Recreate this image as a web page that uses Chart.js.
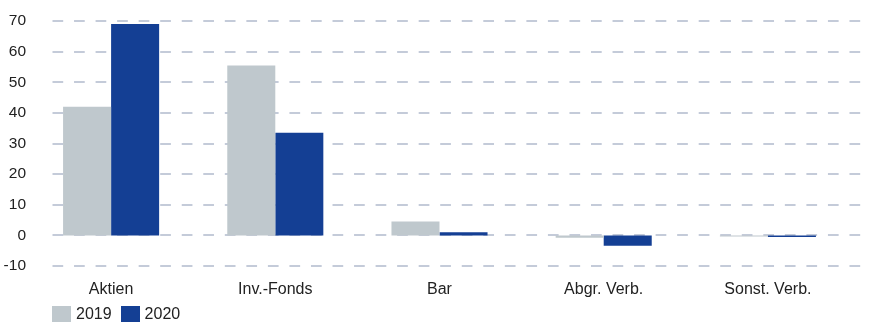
<!DOCTYPE html>
<html>
<head>
<meta charset="utf-8">
<script src="https://cdn.jsdelivr.net/npm/chart.js@4"></script>
<style>
body{margin:0;background:#fff}
#wrap{position:relative;width:872px;height:322px}
#legend{position:absolute;left:52px;top:305px;font:16px "Liberation Sans",Arial,sans-serif;color:#222;display:flex;align-items:center}
#legend span.box{display:inline-block;width:19px;height:17px;margin-right:5px}
#legend span.item{display:flex;align-items:center;margin-right:9px}
</style>
</head>
<body>
<div id="wrap">
<canvas id="chart" width="872" height="322"></canvas>
<div id="legend"></div>
</div>
<script>
let categories = ["Aktien","Inv.-Fonds","Bar","Abgr. Verb.","Sonst. Verb."]
let values2019 = [42, 55.5, 4.5, -0.8, -0.4]
let values2020 = [69, 33.5, 1, -3.4, -0.5]
let seriesNames = ["2019","2020"]
let colors = ["#bfc8cd","#143f94"]

let gridPlugin = {
id:"dashGrid",
beforeDatasetsDraw(chart){
let y = chart.scales.y
let ctx = chart.ctx
ctx.save()
ctx.strokeStyle = "#c4cbd9"
ctx.lineWidth = 2
ctx.setLineDash([10.7,10.84])
y.ticks.forEach(t=>{
let py = Math.round(y.getPixelForValue(t.value))
ctx.beginPath()
ctx.moveTo(52.5,py)
ctx.lineTo(862,py)
ctx.stroke()
})
ctx.restore()
}
}

let font = {family:'"Liberation Sans", Arial, sans-serif', size:16}

new Chart(document.getElementById("chart"),{
type:"bar",
data:{
labels:categories,
datasets:[
{label:seriesNames[0],data:values2019,backgroundColor:colors[0]},
{label:seriesNames[1],data:values2020,backgroundColor:colors[1]}
]
},
options:{
responsive:false,
animation:false,
layout:{padding:{top:21,right:22,left:0,bottom:0}},
categoryPercentage:0.585,
barPercentage:1,
plugins:{legend:{display:false},tooltip:{enabled:false}},
scales:{
x:{
grid:{display:false},
border:{display:false},
ticks:{font:font,color:"#222",padding:6,maxRotation:0},
afterFit(s){ s.height = 56 }
},
y:{
min:-10,max:70,
grid:{display:false},
border:{display:false},
ticks:{stepSize:10,font:{family:font.family,size:15.5},color:"#222",padding:-5},
afterFit(s){ s.width = 29 }
}
}
},
plugins:[gridPlugin]
})

let legend = document.getElementById("legend")
seriesNames.forEach((n,i)=>{
legend.innerHTML += `<span class="item"><span class="box" style="background:${colors[i]}"></span>${n}</span>`
})
</script>
</body>
</html>
